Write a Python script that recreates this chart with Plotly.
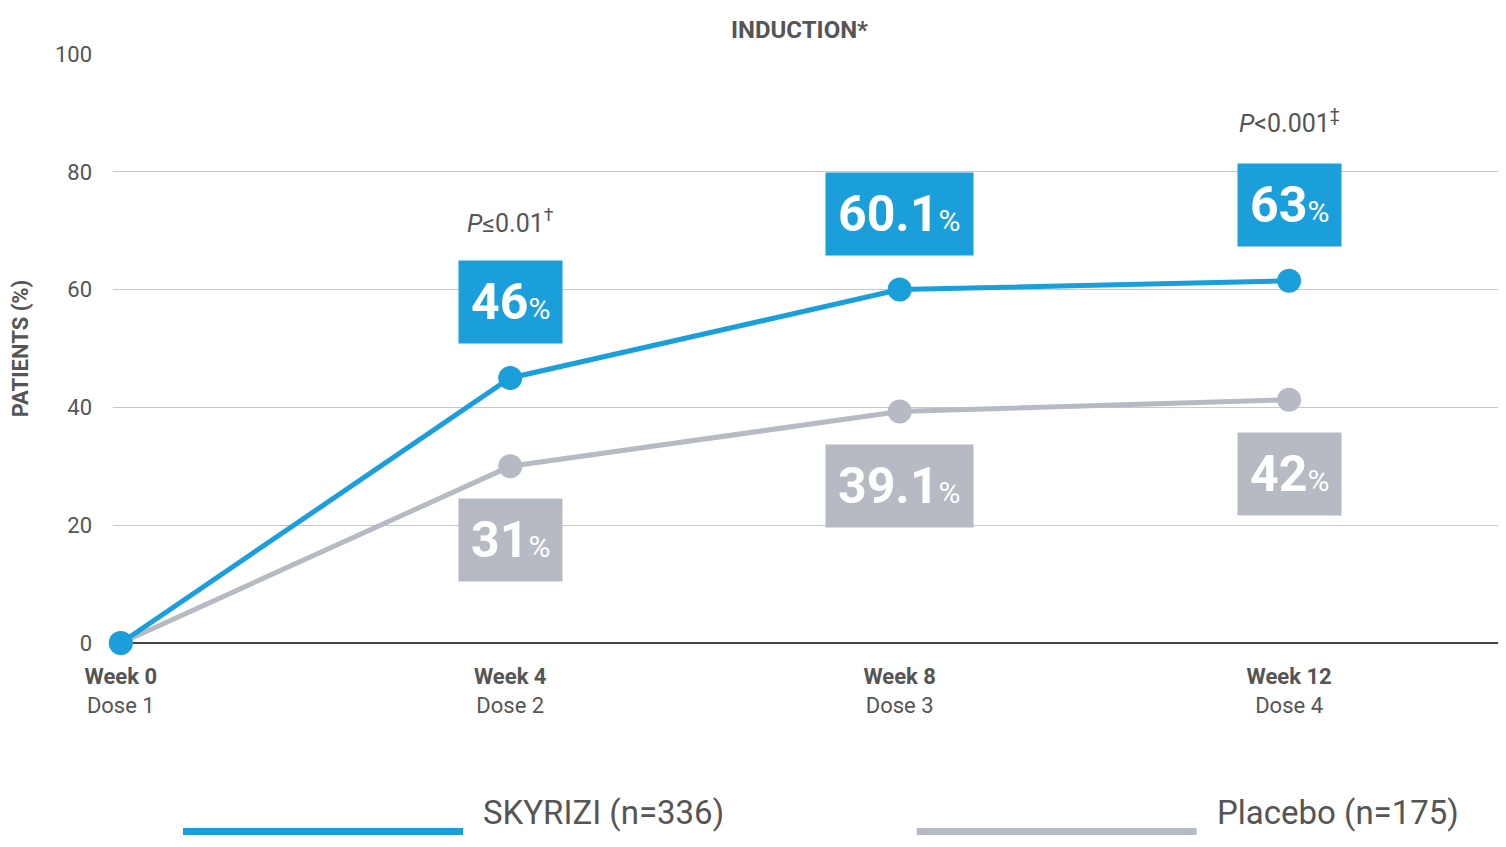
import plotly.graph_objects as go

weeks = [0, 4, 8, 12]
tick_text = ["<b>Week 0</b><br>Dose 1", "<b>Week 4</b><br>Dose 2", "<b>Week 8</b><br>Dose 3", "<b>Week 12</b><br>Dose 4"]
skyrizi = [0, 45, 60, 61.5]
placebo = [0, 30, 39.3, 41.3]
skyrizi_labels = ["46", "60.1", "63"]
placebo_labels = ["31", "39.1", "42"]
p_labels = ["<i>P</i>≤0.01<sup>†</sup>", "<i>P</i><0.001<sup>‡</sup>"]
p_weeks = [4, 12]
p_y = [71.5, 88.5]

BLUE = "#1a9fdb"
GREY = "#b5bac3"
FONT = "Roboto, sans-serif"

fig = go.Figure()
fig.add_trace(go.Scatter(x=weeks, y=placebo, mode="lines+markers", line=dict(color=GREY, width=5),
                         marker=dict(size=24, color=GREY), cliponaxis=False, name="Placebo (n=175)"))
fig.add_trace(go.Scatter(x=weeks, y=skyrizi, mode="lines+markers", line=dict(color=BLUE, width=5),
                         marker=dict(size=24, color=BLUE), cliponaxis=False, name="SKYRIZI (n=336)"))

def box(x, y, txt, color, shift):
    fig.add_annotation(x=x, y=y, yshift=shift, showarrow=False, bgcolor=color, borderpad=12,
                       text=f"<b>{txt}</b><span style='font-size:30px'>%</span>",
                       font=dict(family=FONT, size=50, color="white"))

for w, v, t in zip(weeks[1:], skyrizi[1:], skyrizi_labels):
    box(w, v, t, BLUE, 76)
for w, v, t in zip(weeks[1:], placebo[1:], placebo_labels):
    box(w, v, t, GREY, -74)
for w, y, t in zip(p_weeks, p_y, p_labels):
    fig.add_annotation(x=w, y=y, text=t, showarrow=False, font=dict(family=FONT, size=25, color="#555"))

fig.add_annotation(x=0.49, y=1.0, xref="paper", yref="paper", yanchor="bottom", yshift=8, showarrow=False,
                   text="<b>INDUCTION*</b>", font=dict(family=FONT, size=24, color="#555"))

# custom legend
fig.add_shape(type="line", xref="paper", yref="paper", x0=0.05, x1=0.25, y0=-0.32, y1=-0.32,
              line=dict(color=BLUE, width=7))
fig.add_shape(type="line", xref="paper", yref="paper", x0=0.574, x1=0.774, y0=-0.32, y1=-0.32,
              line=dict(color=GREY, width=7))
fig.add_annotation(xref="paper", yref="paper", x=0.263, y=-0.32, yshift=-3, xanchor="left", showarrow=False,
                   text="SKYRIZI (n=336)", font=dict(family=FONT, size=33, color="#555"))
fig.add_annotation(xref="paper", yref="paper", x=0.787, y=-0.32, yshift=-3, xanchor="left", showarrow=False,
                   text="Placebo (n=175)", font=dict(family=FONT, size=33, color="#555"))

fig.update_layout(
    width=1506, height=847, plot_bgcolor="white", paper_bgcolor="white", showlegend=False,
    margin=dict(l=105, r=1, t=46, b=212),
    font=dict(family=FONT, color="#555"),
    xaxis=dict(range=[-0.08, 14.3], tickvals=weeks, ticktext=tick_text, showgrid=False, zeroline=False,
               tickfont=dict(size=22, color="#555"), automargin=False, ticklabelstandoff=18),
    yaxis=dict(range=[0, 100], dtick=20, gridcolor="#c8c8c8", gridwidth=1, zeroline=True,
               zerolinecolor="#444", zerolinewidth=1.5, tickfont=dict(size=22, color="#555"), ticks="",
               automargin=False, ticklabelstandoff=20,
               title=dict(text="<b>PATIENTS (%)</b>", font=dict(size=22, color="#555"), standoff=40)),
)

fig.write_html("out.html")
